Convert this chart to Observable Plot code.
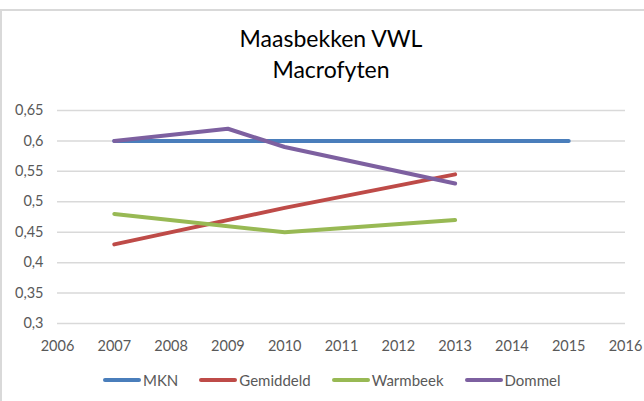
<!DOCTYPE html>
<html>
<head>
<meta charset="utf-8">
<script src="https://cdn.jsdelivr.net/npm/d3@7"></script>
<script src="https://cdn.jsdelivr.net/npm/@observablehq/plot@0.6"></script>
<style>
  html, body { margin: 0; padding: 0; background: #fff; }
  #wrap { position: relative; width: 644px; height: 401px; overflow: hidden; font-family: Lato, "Open Sans", sans-serif; }
  #frameTop { position: absolute; left: 0; right: 0; top: 9px; height: 0; border-top: 2px solid #d9d9d9; }
  #frameLeft { position: absolute; left: 0; top: 9px; bottom: 0; width: 0; border-left: 2px solid #d9d9d9; }
  #title { height: 90px; box-sizing: border-box; padding-top: 23px; text-align: center; font-size: 23px; line-height: 31px; color: #000; padding-left: 18px; }
  #legend { position: absolute; top: 371px; left: 103px; display: flex; gap: 21px; align-items: center; font-size: 15px; color: #595959; }
  .item { display: flex; align-items: center; gap: 2px; }
  .sw { width: 38px; height: 4px; border-radius: 2px; }
</style>
</head>
<body>
<div id="wrap">
  <div id="frameTop"></div>
  <div id="frameLeft"></div>
  <div id="title">Maasbekken VWL<br>Macrofyten</div>
  <div id="chart"></div>
  <div id="legend"></div>
</div>
<script>
const seriesNames = ["MKN", "Gemiddeld", "Warmbeek", "Dommel"];
const seriesColors = ["#4A7EBB", "#BE4B48", "#98B954", "#7D60A0"];

const mknYears = [2007, 2015];
const mknValues = [0.6, 0.6];
const gemYears = [2007, 2010, 2013];
const gemValues = [0.43, 0.49, 0.545];
const warmYears = [2007, 2010, 2013];
const warmValues = [0.48, 0.45, 0.47];
const dommelYears = [2007, 2009, 2010, 2013];
const dommelValues = [0.6, 0.62, 0.59, 0.53];

const xTicks = [2006, 2007, 2008, 2009, 2010, 2011, 2012, 2013, 2014, 2015, 2016];
const yTicks = [0.3, 0.35, 0.4, 0.45, 0.5, 0.55, 0.6, 0.65];
const yTickLabels = ["0,3", "0,35", "0,4", "0,45", "0,5", "0,55", "0,6", "0,65"];

const allYears = [mknYears, gemYears, warmYears, dommelYears];
const allValues = [mknValues, gemValues, warmValues, dommelValues];
const data = [];
seriesNames.forEach((name, i) => {
  allYears[i].forEach((yr, j) => data.push({series: name, year: yr, value: allValues[i][j]}));
});

const yFmt = d => yTickLabels[yTicks.findIndex(t => Math.abs(t - d) < 1e-9)];

const chart = Plot.plot({
  width: 644,
  height: 263,
  marginLeft: 57,
  marginRight: 19,
  marginTop: 20,
  marginBottom: 30,
  style: {fontFamily: "Lato, 'Open Sans', sans-serif", fontSize: "14.5px", color: "#595959", background: "transparent"},
  x: {domain: [2006, 2016], label: null},
  y: {domain: [0.3, 0.65], label: null},
  color: {domain: seriesNames, range: seriesColors},
  marks: [
    Plot.gridY(yTicks, {stroke: "#d9d9d9", strokeOpacity: 1, strokeWidth: 1.5}),
    Plot.axisX({ticks: xTicks, tickFormat: d => String(d), tickSize: 0, tickPadding: 17, fill: "#595959"}),
    Plot.axisY({ticks: yTicks, tickFormat: yFmt, tickSize: 0, tickPadding: 14, fill: "#595959"}),
    Plot.line(data, {x: "year", y: "value", z: "series", stroke: "series", strokeWidth: 4, strokeLinecap: "round", strokeLinejoin: "round"})
  ]
});
document.getElementById("chart").appendChild(chart);

const legend = document.getElementById("legend");
seriesNames.forEach((name, i) => {
  const item = document.createElement("div");
  item.className = "item";
  const sw = document.createElement("div");
  sw.className = "sw";
  sw.style.background = seriesColors[i];
  const tx = document.createElement("span");
  tx.textContent = name;
  item.appendChild(sw);
  item.appendChild(tx);
  legend.appendChild(item);
});
</script>
</body>
</html>
